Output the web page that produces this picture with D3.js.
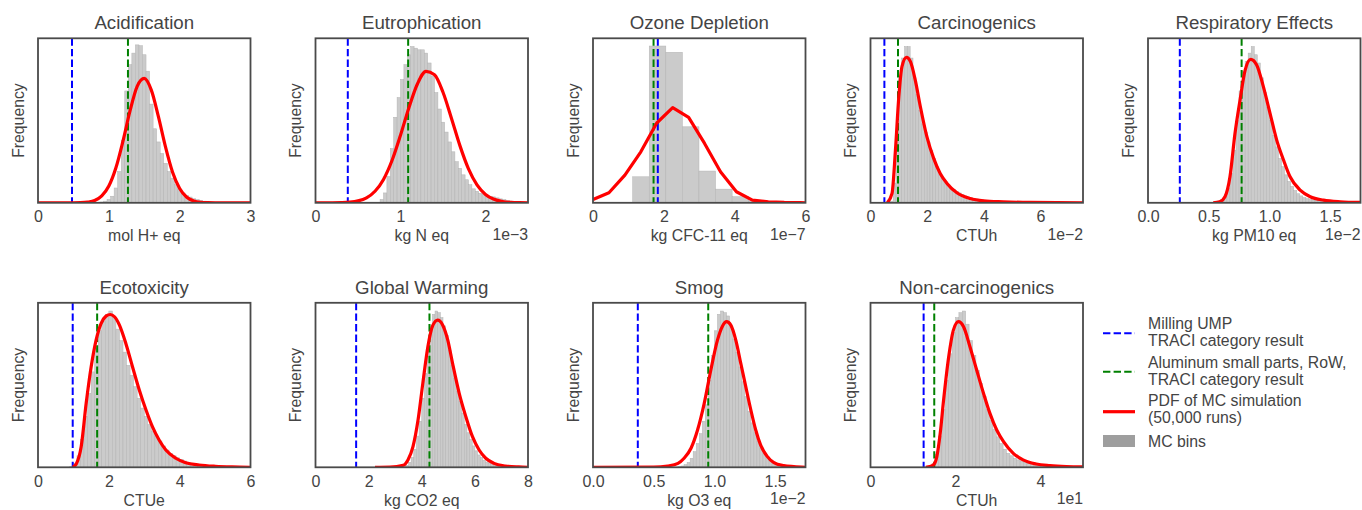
<!DOCTYPE html>
<html>
<head>
<meta charset="utf-8">
<script src="https://cdn.jsdelivr.net/npm/d3@7"></script>
<style>
  body { margin: 0; background: #fff; }
  text { font-family: "Liberation Sans", Arial, sans-serif; fill: #444; }
</style>
</head>
<body>
<svg id="chart" width="1362" height="510"></svg>
<script>
// ---- data ----
const titles = ["Acidification", "Eutrophication", "Ozone Depletion", "Carcinogenics", "Respiratory Effects",
                "Ecotoxicity", "Global Warming", "Smog", "Non-carcinogenics"];
const units = ["mol H+ eq", "kg N eq", "kg CFC-11 eq", "CTUh", "kg PM10 eq", "CTUe", "kg CO2 eq", "kg O3 eq", "CTUh"];
const offsetLabels = ["", "1e\u22123", "1e\u22127", "1e\u22122", "1e\u22122", "", "", "1e\u22122", "1e1"];
const xMax = [3, 2.5, 6, 7.5, 1.75, 6, 8, 1.75, 5];
const xTicks = [[0, 1, 2, 3], [0, 1, 2], [0, 2, 4, 6], [0, 2, 4, 6], [0, 0.5, 1, 1.5],
                [0, 2, 4, 6], [0, 2, 4, 6, 8], [0, 0.5, 1, 1.5], [0, 2, 4]];
const tickDecimals = [0, 0, 0, 0, 1, 0, 0, 1, 0];

// reference results (dashed lines)
const millingUMP = [0.48, 0.38, 1.83, 0.49, 0.262, 0.98, 1.53, 0.369, 1.25];
const aluminumRoW = [1.27, 1.09, 1.71, 0.97, 0.771, 1.67, 4.29, 0.949, 1.5];

// histogram bins: first edge, bin width, relative frequency per bin
const binStart = [0.875, 0.76, 1.12, 0.7, 0.55, 0.9, 3.3, 0.7, 1.44];
const binWidth = [0.05, 0.04, 0.468, 0.1, 0.025, 0.1, 0.1, 0.025, 0.08];

const acidificationBins = [0.5, 1, 2, 4, 9, 19, 38, 68, 84, 91, 96, 95.5, 90, 80, 60, 45, 37, 30, 24, 19,
  15, 11, 8, 6, 4.5, 3.5, 2.5, 2, 1.5, 1, 0.6, 0.3];
const eutrophicationBins = [2, 6, 16, 33, 52, 64, 75, 84, 90, 95, 94, 93, 93, 91, 85, 77, 67, 57, 49, 43,
  37, 31, 25, 21, 17, 14, 11, 8.5, 7, 5.8, 5, 4.5, 4, 3.6, 3, 2.4, 2, 1.5, 1, 0.6];
const ozoneBins = [15.8, 95.3, 91.5, 46.2, 19.3, 8.3, 3.7, 1.2, 0.4];
const carcinogenicsBins = [1, 12, 45, 76, 88, 95, 95, 88, 76, 66, 56, 48, 43, 37, 32, 27, 22, 17, 15, 13,
  11, 9, 8, 7, 6, 5, 4.2, 3.6, 3.1, 2.7, 2.3, 2.0, 1.8, 1.6, 1.4, 1.2, 1.1, 1.0, 0.9, 0.8,
  0.7, 0.6, 0.5, 0.4, 0.35, 0.3, 0.25, 0.2];
const respiratoryBins = [0.5, 1, 2, 4, 9, 18, 32, 50, 68, 80, 86, 91, 95, 90, 85, 76, 67, 58, 50, 41,
  34, 27, 22, 17, 13, 10, 7.5, 5.5, 4.2, 3.2, 2.5, 2, 1.7, 1.4, 1.2, 1, 0.8, 0.7, 0.6, 0.5,
  0.4, 0.3, 0.25, 0.2];
const ecotoxicityBins = [0.5, 2.5, 7, 17, 31, 45, 58, 72, 83, 89, 93, 95, 91, 84, 77, 70, 62, 56, 49, 42,
  36, 31, 26, 22, 19, 16, 13, 10.5, 8.5, 7, 5.8, 4.8, 3.8, 3, 2.4, 1.9, 1.5, 1.2, 1, 0.8,
  0.6, 0.5, 0.4, 0.3, 0.2, 0.15];
const warmingBins = [0.5, 1.2, 3, 6, 11, 19, 28, 42, 57, 72, 86, 93, 95, 94, 91, 86, 80, 71, 62, 54,
  46, 40, 33, 26, 21, 17, 13, 10, 7.5, 6, 4.3, 3.2, 2.4, 1.8, 1.3, 0.9, 0.7, 0.5, 0.4, 0.3, 0.2];
const smogBins = [0.3, 0.8, 1.6, 3, 5.5, 9.5, 14.5, 20.5, 28, 38, 53, 68, 83, 93, 95, 94, 92, 86, 78, 70,
  61, 52, 43, 34, 27, 21, 16, 11.5, 8.5, 6.5, 4.5, 3.2, 2.2, 1.6, 1.1, 0.8, 0.6, 0.4, 0.3, 0.2];
const noncarcinogenicsBins = [2, 8, 19, 35, 53, 69, 82, 91, 94, 95, 87, 77, 68, 59, 51, 43, 35, 28.5, 23, 18.5,
  14.5, 11, 8.5, 7, 5.5, 4.5, 3.8, 3.2, 2.6, 2.2, 1.8, 1.5, 1.2, 1, 0.8, 0.6, 0.5, 0.4, 0.3, 0.2];

// PDF of MC simulation, [x, relative frequency]
const acidificationPdf = [[0, 0], [0.5, 0.02], [0.6, 0.1], [0.7, 0.42], [0.8, 1.4], [0.9, 4.2], [1.0, 10.2],
  [1.1, 21.3], [1.2, 37.6], [1.3, 56], [1.4, 70.8], [1.5, 75.6], [1.6, 68.5], [1.7, 52.4], [1.8, 34],
  [1.9, 18.6], [2.0, 8.7], [2.1, 3.4], [2.2, 1.1], [2.3, 0.3], [2.4, 0.07], [2.5, 0.01], [3.0, 0]];
const eutrophicationPdf = [[0, 0], [0.2, 0.03], [0.3, 0.12], [0.4, 0.39], [0.5, 1.16], [0.6, 3], [0.7, 7],
  [0.8, 14.2], [0.9, 25.7], [1.0, 41.1], [1.1, 58], [1.2, 72.4], [1.3, 79.9], [1.4, 77.9], [1.5, 67.2],
  [1.6, 51.3], [1.7, 34.6], [1.8, 20.6], [1.9, 10.9], [2.0, 5.1], [2.1, 2.1], [2.2, 0.76], [2.3, 0.25],
  [2.4, 0.07], [2.5, 0.02]];
const ozonePdf = [[0, 2], [0.45, 6.1], [0.9, 16.8], [1.35, 31], [1.8, 48.5], [2.25, 57.8], [2.7, 51.9],
  [3.15, 36.1], [3.6, 18.9], [4.05, 6.7], [4.5, 1.6], [4.95, 0.6], [5.4, 0.2], [5.85, 0.05], [6, 0]];
const carcinogenicsPdf = [[0.59, 0], [0.76, 5.7], [0.88, 32], [1.0, 64.5], [1.11, 82.8], [1.27, 88.4],
  [1.41, 85.8], [1.58, 74.6], [1.76, 58.4], [1.99, 40.2], [2.23, 27], [2.46, 17.8], [2.7, 11.8],
  [3.05, 6.1], [3.52, 2.6], [3.99, 1.2], [4.69, 0.6], [5.63, 0.2], [7.5, 0]];
const respiratoryPdf = [[0.537, 0], [0.59, 0.6], [0.634, 3.7], [0.675, 15.8], [0.716, 42], [0.758, 62.5],
  [0.80, 80.7], [0.846, 87.2], [0.895, 83.8], [0.95, 70.6], [1.005, 54.4], [1.06, 38.1], [1.116, 26],
  [1.17, 15.8], [1.253, 7.7], [1.336, 3.7], [1.446, 1.6], [1.584, 0.6], [1.75, 0.2]];
const ecotoxicityPdf = [[0.98, 0], [1.08, 2], [1.22, 12.6], [1.36, 38.9], [1.5, 61], [1.64, 77.3],
  [1.78, 87.4], [1.92, 91.9], [2.04, 92.9], [2.16, 91.5], [2.3, 86.4], [2.48, 75.3], [2.67, 61],
  [2.86, 47], [3.05, 34.8], [3.23, 24.7], [3.42, 16.6], [3.61, 10.5], [3.89, 5.5], [4.17, 2.8],
  [4.55, 1.4], [5.01, 0.6], [5.48, 0.2], [6, 0]];
const warmingPdf = [[2.24, 0], [2.8, 0.1], [3.3, 1.2], [3.48, 4.5], [3.67, 12.6], [3.86, 28.7], [4.04, 51],
  [4.23, 73.3], [4.42, 86.4], [4.6, 89.5], [4.79, 86.4], [4.98, 77.3], [5.16, 63.2], [5.41, 45],
  [5.66, 30.8], [5.91, 18.6], [6.16, 10.5], [6.41, 5.5], [6.72, 2.4], [7.15, 0.8], [7.65, 0.2], [8, 0]];
const smogPdf = [[0, 0], [0.5, 0.1], [0.615, 0.8], [0.70, 2.4], [0.75, 5.5], [0.807, 11.6], [0.861, 22.7],
  [0.916, 38.9], [0.97, 59], [1.025, 77.3], [1.066, 85.8], [1.1, 88.5], [1.135, 86.4], [1.176, 77.3],
  [1.217, 63.2], [1.258, 49], [1.3, 34.8], [1.34, 22.7], [1.38, 13.6], [1.436, 6.5], [1.49, 2.8],
  [1.57, 1], [1.654, 0.4], [1.75, 0]];
const noncarcinogenicsPdf = [[1.3, 0], [1.4, 0.4], [1.5, 2], [1.56, 6.5], [1.64, 20.6], [1.72, 40.9],
  [1.84, 67.2], [1.95, 83.4], [2.07, 88.5], [2.19, 85.4], [2.34, 73.3], [2.5, 59], [2.66, 44.9],
  [2.81, 32.8], [2.97, 22.7], [3.13, 15.6], [3.36, 8.5], [3.59, 4.5], [3.9, 2], [4.22, 1], [4.61, 0.4],
  [5, 0.2]];

const legendLabels = ["Milling UMP\nTRACI category result", "Aluminum small parts, RoW,\nTRACI category result",
  "PDF of MC simulation\n(50,000 runs)", "MC bins"];

const allBins = [acidificationBins, eutrophicationBins, ozoneBins, carcinogenicsBins, respiratoryBins,
  ecotoxicityBins, warmingBins, smogBins, noncarcinogenicsBins];
const allPdfs = [acidificationPdf, eutrophicationPdf, ozonePdf, carcinogenicsPdf, respiratoryPdf,
  ecotoxicityPdf, warmingPdf, smogPdf, noncarcinogenicsPdf];

// ---- layout ----
const colors = { milling: "#0000ff", aluminum: "#008000", pdf: "#ff0000", bar: "#cbcbcb", barEdge: "#b3b3b3", frame: "#4a4a4a" };
const panelW = 212.5, panelH = 164.5, colStep = 277.5;
const rowTop = [38.3, 302.8];

var svg = d3.select("#chart");
var defs = svg.append("defs");

titles.forEach(function(title, i) {
    var row = i < 5 ? 0 : 1, col = i % 5;
    var left = 38 + col * colStep, top = rowTop[row];

    var x = d3.scaleLinear().domain([0, xMax[i]]).range([0, panelW]);
    var y = d3.scaleLinear().domain([0, 100]).range([panelH, 0]);

    var g = svg.append("g").attr("transform", `translate(${left},${top})`);

    defs.append("clipPath").attr("id", "clip" + i)
        .append("rect").attr("width", panelW).attr("height", panelH);

    var plot = g.append("g").attr("clip-path", `url(#clip${i})`);

    // MC bins
    var bins = allBins[i].map(function(h, k) {
        return { x0: binStart[i] + k * binWidth[i], x1: binStart[i] + (k + 1) * binWidth[i], h: h };
    });
    plot.selectAll(".bin")
        .data(bins)
        .enter()
        .append("rect")
        .attr("class", "bin")
        .attr("x", d => x(d.x0))
        .attr("width", d => x(d.x1) - x(d.x0))
        .attr("y", d => y(d.h))
        .attr("height", d => y(0) - y(d.h))
        .attr("fill", colors.bar)
        .attr("stroke", colors.barEdge)
        .attr("stroke-width", 0.5);

    // reference results
    [[millingUMP[i], colors.milling], [aluminumRoW[i], colors.aluminum]].forEach(function(r) {
        plot.append("line")
            .attr("x1", x(r[0])).attr("x2", x(r[0]))
            .attr("y1", 0).attr("y2", panelH)
            .attr("stroke", r[1])
            .attr("stroke-width", 2)
            .attr("stroke-dasharray", "7.4,3.2");
    });

    // PDF
    var line = d3.line()
        .x(d => x(d[0]))
        .y(d => y(d[1]))
        .curve(i == 2 ? d3.curveLinear : d3.curveMonotoneX);
    plot.append("path")
        .datum(allPdfs[i])
        .attr("fill", "none")
        .attr("stroke", colors.pdf)
        .attr("stroke-width", 3.2)
        .attr("stroke-linejoin", "round")
        .attr("d", line);

    // frame
    g.append("rect")
        .attr("width", panelW).attr("height", panelH)
        .attr("fill", "none")
        .attr("stroke", colors.frame)
        .attr("stroke-width", 1.8);

    // x axis
    var axis = g.append("g")
        .attr("transform", `translate(0,${panelH})`)
        .call(d3.axisBottom(x).tickValues(xTicks[i]).tickSize(0).tickPadding(8)
            .tickFormat(d3.format(`.${tickDecimals[i]}f`)));
    axis.select(".domain").remove();
    axis.selectAll("text")
        .attr("fill", null)
        .style("font-size", "16px")
        .style("font-family", null);

    g.append("text")
        .attr("x", panelW / 2).attr("y", panelH + 38.5)
        .attr("text-anchor", "middle")
        .style("font-size", "15.8px")
        .text(units[i]);

    if (offsetLabels[i]) {
        g.append("text")
            .attr("x", panelW).attr("y", panelH + 37)
            .attr("text-anchor", "end")
            .style("font-size", "15.8px")
            .text(offsetLabels[i]);
    }

    g.append("text")
        .attr("transform", `translate(-20,${panelH / 2}) rotate(-90)`)
        .attr("dy", "0.35em")
        .attr("text-anchor", "middle")
        .style("font-size", "15.8px")
        .text("Frequency");

    g.append("text")
        .attr("x", panelW / 2).attr("y", -9)
        .attr("text-anchor", "middle")
        .style("font-size", "18.7px")
        .text(title);
});

// ---- legend ----
var legend = svg.append("g").attr("transform", "translate(1103,0)");
var legendRows = [
    { y: 333.3, text: 329.3, kind: "dash", color: colors.milling },
    { y: 371.7, text: 368.3, kind: "dash", color: colors.aluminum },
    { y: 411.7, text: 406, kind: "line", color: colors.pdf },
    { y: 441, text: 446.7, kind: "patch", color: "#9e9e9e" }
];
legendRows.forEach(function(r, k) {
    if (r.kind == "patch") {
        legend.append("rect")
            .attr("x", 0).attr("y", r.y - 6).attr("width", 32).attr("height", 12)
            .attr("fill", r.color);
    } else {
        legend.append("line")
            .attr("x1", 0).attr("x2", 32).attr("y1", r.y).attr("y2", r.y)
            .attr("stroke", r.color)
            .attr("stroke-width", r.kind == "dash" ? 2 : 3.2)
            .attr("stroke-dasharray", r.kind == "dash" ? "7.4,3.2" : null);
    }
    var lines = legendLabels[k].split("\n");
    var t = legend.append("text")
        .attr("x", 45).attr("y", r.text)
        .style("font-size", "15.8px");
    lines.forEach(function(s, j) {
        t.append("tspan").attr("x", 45).attr("dy", j == 0 ? 0 : 17).text(s);
    });
});
</script>
</body>
</html>
